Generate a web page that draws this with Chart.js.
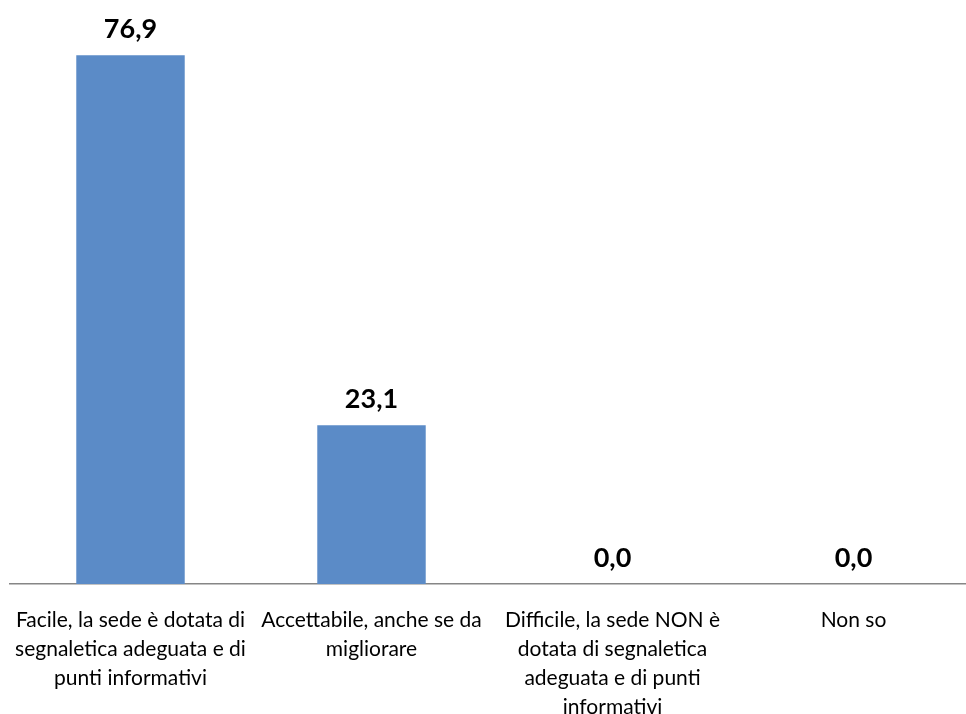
<!DOCTYPE html>
<html>
<head>
<meta charset="utf-8">
<script src="https://cdn.jsdelivr.net/npm/chart.js@4"></script>
<style>
  html, body { margin: 0; padding: 0; background: #fff; overflow: hidden; }
  #wrap { width: 974px; height: 714px; position: relative; }
</style>
</head>
<body>
<div id="wrap"><canvas id="grafico"></canvas></div>
<script>
// categorie (già spezzate in righe come nel grafico originale)
const categorie = [
    ['Facile, la sede è dotata di', 'segnaletica adeguata e di', 'punti informativi'],
    ['Accettabile, anche se da', 'migliorare'],
    ['Difficile, la sede NON è', 'dotata di segnaletica', 'adeguata e di punti', 'informativi'],
    ['Non so']
];
const valori = [76.9, 23.1, 0.0, 0.0];

// etichette sopra le barre
const etichetteValori = {
    id: 'etichetteValori',
    afterDatasetsDraw(chart) {
        const ctx = chart.ctx;
        const meta = chart.getDatasetMeta(0);
        ctx.save();
        ctx.font = 'bold 27px Lato';
        ctx.fillStyle = '#000';
        ctx.textAlign = 'center';
        ctx.textBaseline = 'alphabetic';
        meta.data.forEach((bar, i) => {
            const testo = valori[i].toFixed(1).replace('.', ',');
            ctx.fillText(testo, bar.x, bar.y - 17);
        });
        ctx.restore();
    }
};

new Chart(document.getElementById('grafico'), {
    type: 'bar',
    data: {
        labels: categorie,
        datasets: [{
            data: valori,
            backgroundColor: '#5b8bc7',
            categoryPercentage: 1,
            barPercentage: 0.45
        }]
    },
    options: {
        responsive: true,
        maintainAspectRatio: false,
        animation: false,
        layout: { padding: { top: 34, left: 10, right: 0, bottom: 0 } },
        plugins: {
            legend: { display: false },
            tooltip: { enabled: false }
        },
        scales: {
            y: {
                display: false,
                min: 0,
                max: 80
            },
            x: {
                grid: { display: false, drawTicks: false },
                border: { display: true, color: '#868686', width: 1.5 },
                ticks: {
                    color: '#000',
                    font: { family: 'Lato', size: 21, lineHeight: 1.38 },
                    padding: 22,
                    maxRotation: 0,
                    autoSkip: false
                },
                afterFit(scale) {
                    scale.height = 130;
                    scale.paddingLeft = 0;
                    scale.paddingRight = 0;
                }
            }
        }
    },
    plugins: [etichetteValori]
});
</script>
</body>
</html>
